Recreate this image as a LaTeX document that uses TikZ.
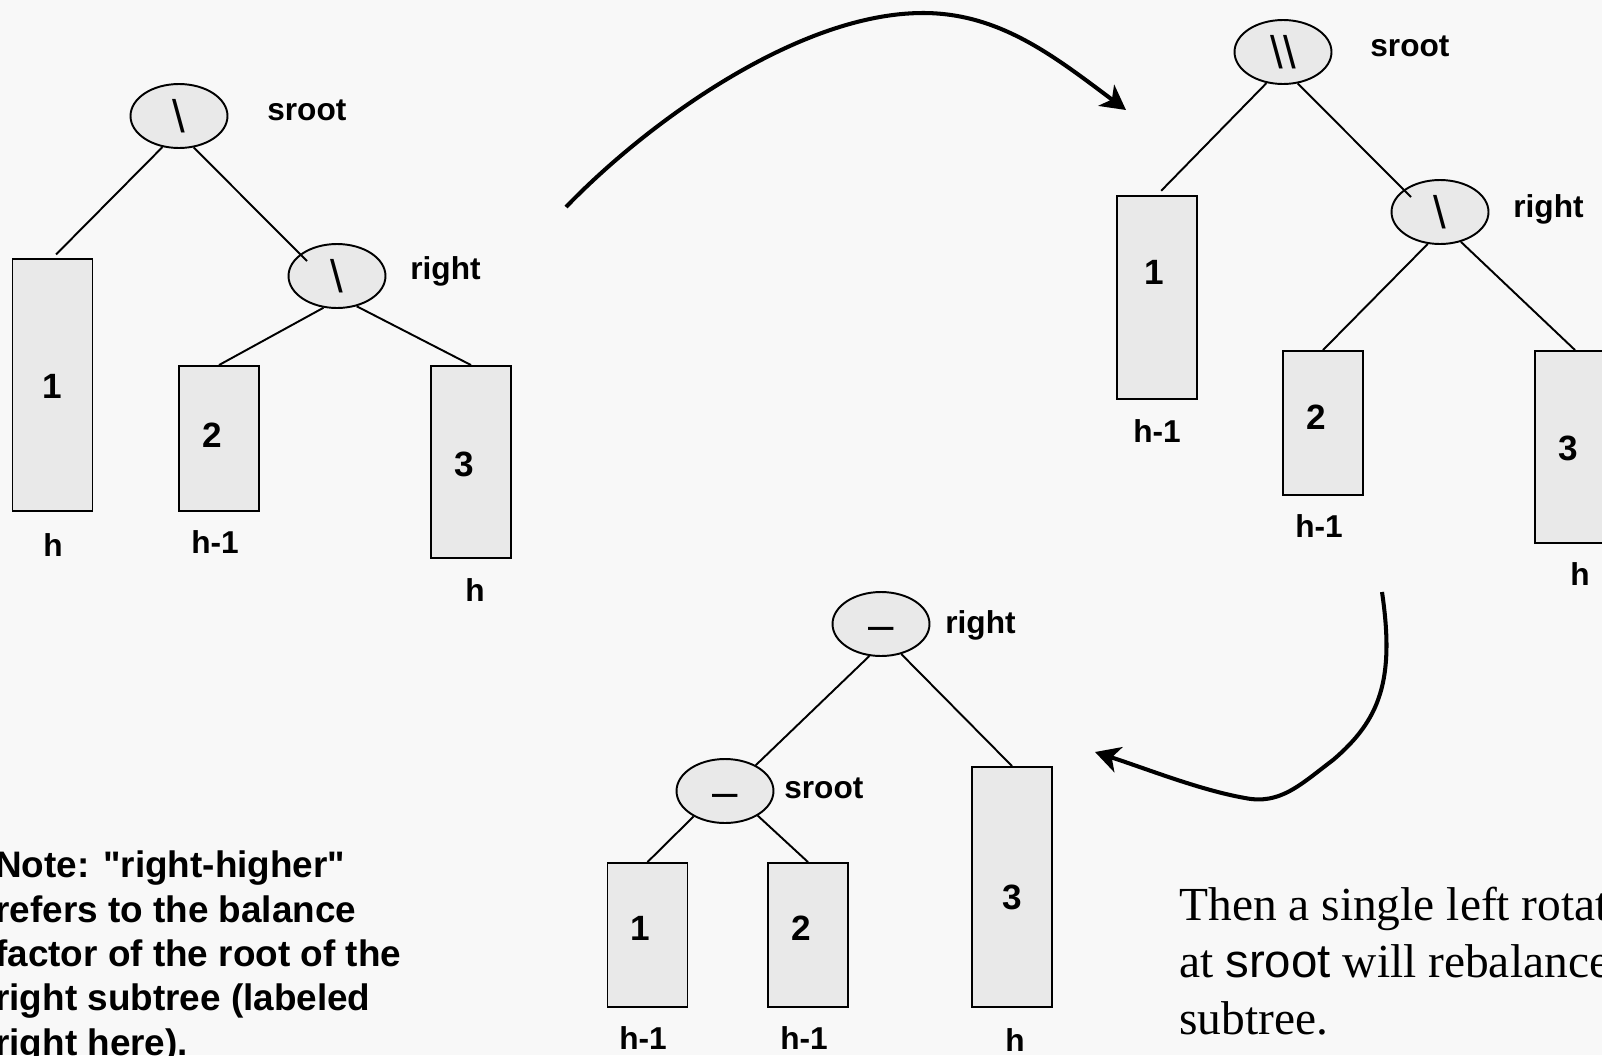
\documentclass[tikz,border=0pt]{standalone}
\usepackage{fontspec}
\setmainfont{Liberation Serif}
\setsansfont{Liberation Sans}
\usetikzlibrary{shapes.geometric, arrows.meta, calc}
\definecolor{color1}{RGB}{248,248,248}
\definecolor{color2}{RGB}{233,233,233}
\tikzset{
	balnode/.style={ellipse, draw=black, line width=1.1pt, fill=color2, minimum width=1.94cm, minimum height=1.28cm, inner sep=0pt, font=\sffamily\fontsize{26}{26}\selectfont},
	subtree/.style={rectangle, draw=black, line width=1.1pt, fill=color2, minimum width=1.6cm, minimum height=#1, inner sep=0pt},
	digit/.style={inner sep=0pt, font=\sffamily\bfseries\fontsize{20}{24}\selectfont},
	hlabel/.style={inner sep=0pt, font=\sffamily\bfseries\fontsize{18}{22}\selectfont},
	link/.style={line width=1.1pt},
	turn/.style={line width=2.3pt, -{Stealth[length=14pt, width=15pt, inset=4pt]}},
	notetext/.style={inner sep=0pt, align=left, font=\sffamily\bfseries\fontsize{21}{25.2}\selectfont},
	saytext/.style={inner sep=0pt, align=left, font=\fontsize{27}{32.3}\selectfont}
}

\begin{document}
\begin{tikzpicture}[x=0.02cm, y=-0.02cm]
	\useasboundingbox (0,0) rectangle (1602,1055);
	\fill[color1] (0,0) rectangle (1602,1055);
	\clip (0,0) rectangle (1602,1055);

	% before: right-higher at right
	\node[balnode] (ls) at (179,116){\textbackslash};
	\node[hlabel, anchor=west] (lsname) at (267,110){sroot};
	\node[balnode] (lr) at (337,276){\textbackslash};
	\node[hlabel, anchor=west] (lrname) at (410,271){right};
	\node[subtree=5.04cm] (l1) at (52.5,385){};
	\node[subtree=2.9cm] (l2) at (219,438.5){};
	\node[subtree=3.84cm] (l3) at (471,462){};
	\node[digit] (l1n) at (52,386){1};
	\node[digit] (l2n) at (212,435){2};
	\node[digit] (l3n) at (464,464){3};
	\node[hlabel] (l1h) at (53,545){h};
	\node[hlabel] (l2h) at (215,542){h-1};
	\node[hlabel] (l3h) at (475,590){h};
	\draw[link, shorten >=0.1cm] (ls.242) -- (l1.north);
	\draw[link] (ls.295) -- ($(lr)+(-30,-15)$);
	\draw[link] (lr.247) -- (l2.north);
	\draw[link] (lr.303) -- (l3.north);

	% after the insertion
	\node[balnode] (rs) at (1283,52){\textbackslash\textbackslash};
	\node[hlabel, anchor=west] (rsname) at (1370,46){sroot};
	\node[balnode] (rr) at (1440,212){\textbackslash};
	\node[hlabel, anchor=west] (rrname) at (1513,209){right};
	\node[subtree=4.06cm] (r1) at (1157,297.5){};
	\node[subtree=2.88cm] (r2) at (1323,423){};
	\node[subtree=3.84cm] (r3) at (1575,447){};
	\node[digit] (r1n) at (1154,272){1};
	\node[digit] (r2n) at (1316,417){2};
	\node[digit] (r3n) at (1568,448){3};
	\node[hlabel] (r1h) at (1157,431){h-1};
	\node[hlabel] (r2h) at (1319,526){h-1};
	\node[hlabel] (r3h) at (1580,574){h};
	\draw[link, shorten >=0.12cm] (rs.242) -- (r1.north);
	\draw[link] (rs.295) -- ($(rr)+(-29,-15)$);
	\draw[link] (rr.249) -- (r2.north);
	\draw[link] (rr.305) -- (r3.north);

	% after the rotation
	\node[balnode, text height=19pt, text depth=0pt] (br) at (881,624){–};
	\node[hlabel, anchor=west] (brname) at (945,625){right};
	\node[balnode, text height=19pt, text depth=0pt] (bs) at (725,791){–};
	\node[hlabel, anchor=west] (bsname) at (784,788){sroot};
	\node[subtree=2.88cm] (b1) at (647.5,935){};
	\node[subtree=2.88cm] (b2) at (808,935){};
	\node[subtree=4.8cm] (b3) at (1012,887){};
	\node[digit] (b1n) at (640,928){1};
	\node[digit] (b2n) at (801,928){2};
	\node[digit] (b3n) at (1012,897){3};
	\node[hlabel] (b1h) at (643,1038){h-1};
	\node[hlabel] (b2h) at (804,1038){h-1};
	\node[hlabel] (b3h) at (1015,1040){h};
	\draw[link] (br.250) -- (bs.40);
	\draw[link] (br.304) -- (b3.north);
	\draw[link] (bs.219) -- (b1.north);
	\draw[link] (bs.323) -- (b2.north);

	% arrows
	\coordinate (a1s) at (566,207);
	\coordinate (a1e) at (1126,110);
	\draw[turn] (a1s) .. controls (650,120) and (800,13) .. (923,13) .. controls (1000,13) and (1055,57) .. (a1e);
	\coordinate (a2s) at (1382,592);
	\coordinate (a2e) at (1095,752);
	\draw[turn] (a2s) .. controls (1395,680) and (1380,720) .. (1333,760) .. controls (1300,785) and (1280,805) .. (1245,798) .. controls (1200,790) and (1150,770) .. (a2e);

	% texts
	\node[notetext, anchor=base west] (note) at (-5,1055){Note: \textquotedbl right-higher\textquotedbl\\refers to the balance\\factor of the root of the\\right subtree (labeled\\right here).};
	\node[saytext, anchor=base west] (say) at (1179,1034){Then a single left rotation\\at \textsf{sroot} will rebalance the\\subtree.};
\end{tikzpicture}
\end{document}
